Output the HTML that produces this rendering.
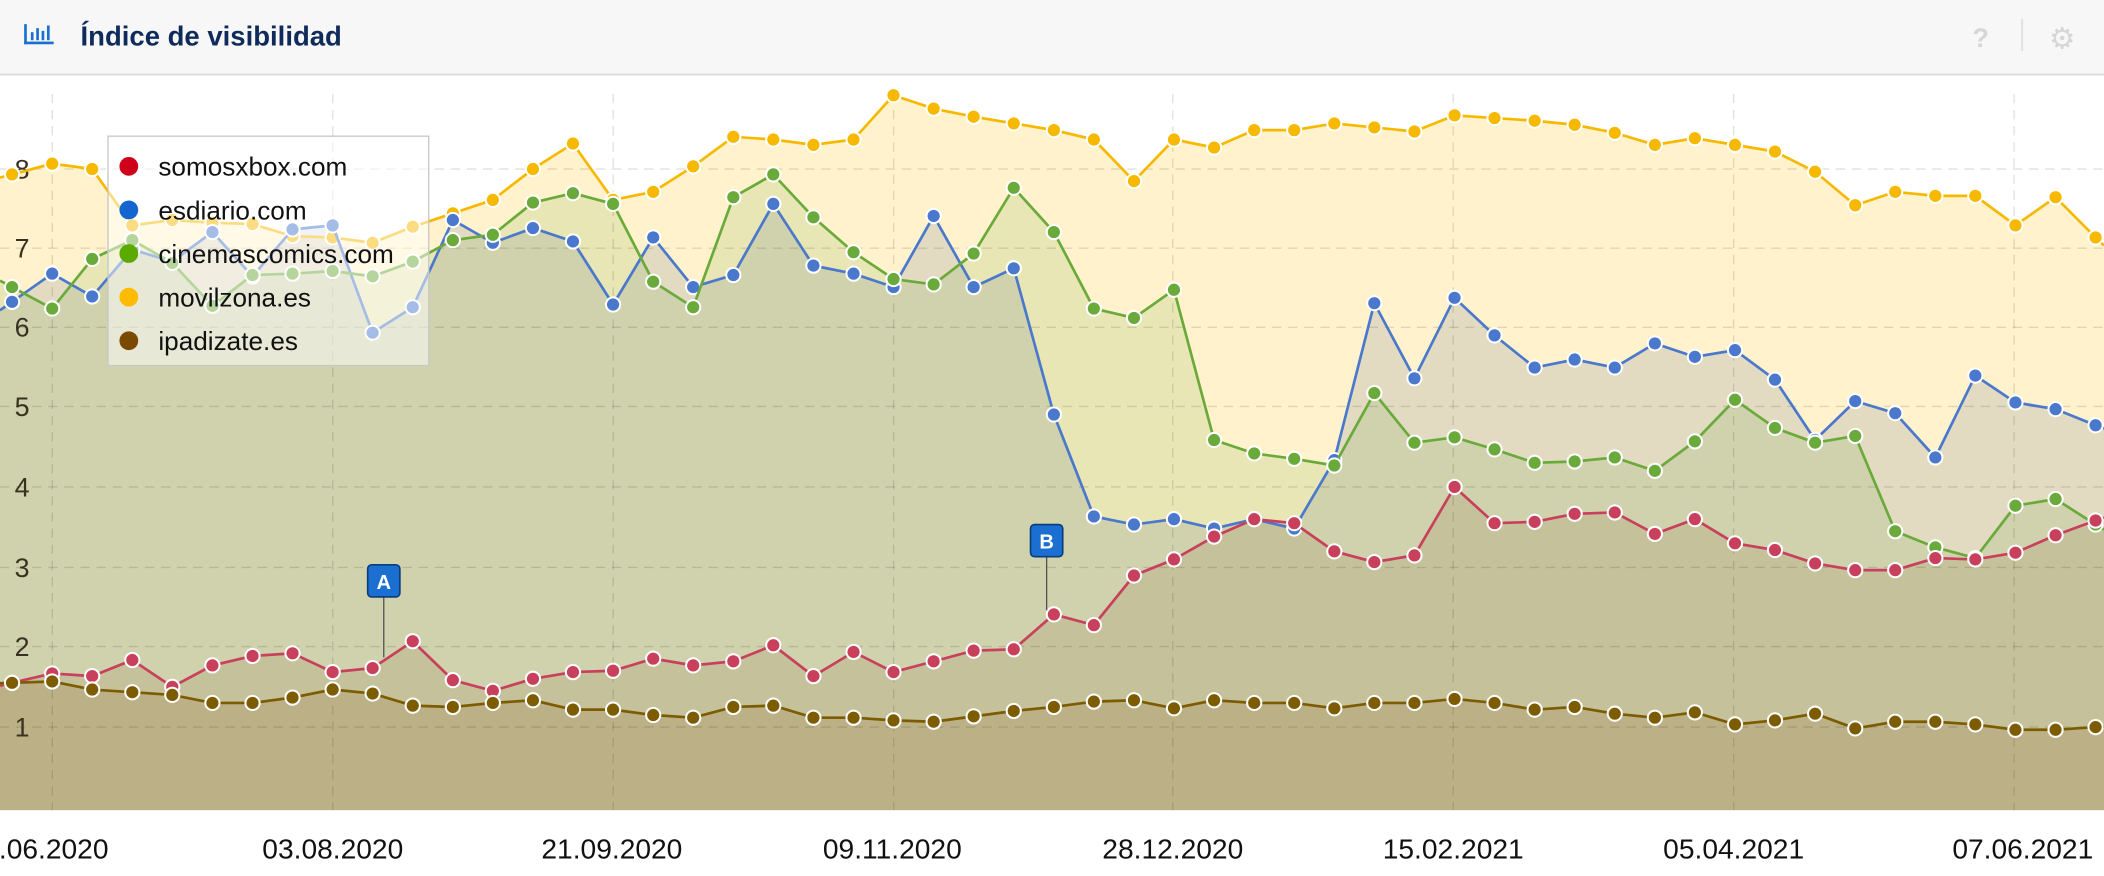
<!DOCTYPE html>
<html><head><meta charset="utf-8"><style>
html,body{margin:0;padding:0;background:#fff;}
svg{display:block;}
</style></head><body>
<svg id="s" width="2104" height="876" viewBox="0 0 1568 653" preserveAspectRatio="none" xmlns="http://www.w3.org/2000/svg" font-family="Liberation Sans, sans-serif">
<rect x="0" y="0" width="1568" height="653" fill="#fff"/>
<rect x="0" y="0" width="1568" height="55" fill="#f7f7f7"/>
<line x1="0" y1="55.5" x2="1568" y2="55.5" stroke="#dcdcdc" stroke-width="1.5"/>
<g fill="#1a6fd0"><rect x="18" y="31" width="22" height="2"/><rect x="18" y="18" width="2" height="15"/><rect x="23" y="24" width="2" height="6"/><rect x="27" y="21" width="2" height="9"/><rect x="31" y="23" width="2" height="7"/><rect x="35" y="19" width="2" height="11"/></g>
<text x="60" y="34" font-size="20.5" font-weight="bold" fill="#0f2b5b">Índice de visibilidad</text>
<text x="1470" y="35" font-size="20" font-weight="bold" fill="#d6d6d6">?</text>
<line x1="1507" y1="14" x2="1507" y2="38" stroke="#e0e0e0" stroke-width="1.5"/>
<text x="1527" y="36" font-size="22" fill="#d6d6d6">⚙</text>
<g id="plot"></g>
</svg>
<script>
const Y={
yel:[130,122,126,168,164,166,167,176,177,181,169,159,149,126,107,149,143,124,102,104,108,104,71,81,87,92,97,104,135,104,110,97,97,92,95,98,86,88,90,93,99,108,103,108,113,128,153,143,146,146,168,147,177],
blu:[225,204,221,186,195,173,206,171,168,248,229,164,181,170,180,227,177,214,205,152,198,204,214,161,214,200,309,385,391,387,394,387,394,343,226,282,222,250,274,268,274,256,266,261,283,328,299,308,341,280,300,305,317],
grn:[214,230,193,179,196,228,205,204,202,206,195,179,175,151,144,152,210,229,147,130,162,188,208,212,189,140,173,230,237,216,328,338,342,347,293,330,326,335,345,344,341,351,329,298,319,330,325,396,408,416,377,372,391],
red:[509,502,504,492,512,496,489,487,501,498,478,507,515,506,501,500,491,496,493,481,504,486,501,493,485,484,458,466,429,417,400,387,390,411,419,414,363,390,389,383,382,398,387,405,410,420,425,425,416,417,412,399,388],
brn:[509,508,514,516,518,524,524,520,514,517,526,527,524,522,529,529,533,535,527,526,535,535,537,538,534,530,527,523,522,528,522,524,524,528,524,524,521,524,529,527,532,535,531,540,537,532,543,538,538,540,544,544,542]};
const S=[['yel','#fff2cc',1,'#f7b900'],['blu','rgb(62,89,144)',0.15,'#4a78cc'],['grn','rgb(102,162,51)',0.15,'#6aaa3a'],['red','rgb(140,90,40)',0.14,'#c9405c'],['brn','rgb(140,85,20)',0.15,'#7d5c00']];
const X=i=>9+29.86*i, B=604;
let h='';
function pts(k){const a=Y[k];const l=a[0]+(a[0]-a[1])*9/29.86;const r=a[52]+(a[52]-a[51])*6/29.86;let p=[[0,l]];a.forEach((y,i)=>p.push([X(i),y]));p.push([1568,r]);return p;}
for(const [k,f,a] of S){let d='M0,'+B;pts(k).forEach(([x,y])=>d+='L'+x.toFixed(1)+','+y.toFixed(1));d+='L1568,'+B+'Z';h+=`<path d="${d}" fill="${f}" fill-opacity="${a}"/>`;}
[126,185,244,303,363,423,482,542].forEach(y=>h+=`<line x1="0" y1="${y}" x2="1568" y2="${y}" stroke="rgba(0,0,0,0.12)" stroke-dasharray="7,5"/>`);
[39,248,457,666,874,1083,1292,1501].forEach(x=>h+=`<line x1="${x}" y1="70" x2="${x}" y2="${B}" stroke="rgba(0,0,0,0.12)" stroke-dasharray="7,5"/>`);
[['8',126],['7',185],['6',244],['5',303],['4',363],['3',423],['2',482],['1',542]].forEach(([t,y])=>h+=`<text x="22" y="${y+7}" font-size="20" fill="#3a3220" text-anchor="end">${t}</text>`);
for(const [k,,,c] of S){let d='';pts(k).forEach(([x,y],i)=>d+=(i?'L':'M')+x.toFixed(1)+','+y.toFixed(1));h+=`<path d="${d}" fill="none" stroke="${c}" stroke-width="2"/>`;Y[k].forEach((y,i)=>h+=`<circle cx="${X(i).toFixed(1)}" cy="${y}" r="5.3" fill="${c}" stroke="#fff" stroke-width="1.5"/>`);}
[['A',286,433,490],['B',780,403,455]].forEach(([t,x,y,y2])=>{h+=`<line x1="${x}" y1="${y+12}" x2="${x}" y2="${y2}" stroke="#555" stroke-width="1"/><rect x="${x-12}" y="${y-12}" width="24" height="24" rx="3" fill="#1a6fd0" stroke="#0b3c7a" stroke-width="1.2"/><text x="${x}" y="${y+6}" font-size="15" font-weight="bold" fill="#fff" text-anchor="middle">${t}</text>`;});
h+=`<rect x="0" y="${B}" width="1568" height="49" fill="#fff"/>`;
[['.06.2020',40],['03.08.2020',248],['21.09.2020',456],['09.11.2020',665],['28.12.2020',874],['15.02.2021',1083],['05.04.2021',1292]].forEach(([t,x])=>h+=`<text x="${x}" y="640" font-size="21" fill="#111" text-anchor="middle">${t}</text>`);
h+=`<text x="1560" y="640" font-size="21" fill="#111" text-anchor="end">07.06.2021</text>`;
h+=`<rect x="80.5" y="101.5" width="239" height="171" fill="#fff" fill-opacity="0.5" stroke="#c8c8c8" stroke-width="1"/>`;
[['somosxbox.com','#d0021b'],['esdiario.com','#1565d0'],['cinemascomics.com','#5aaa00'],['movilzona.es','#ffbb00'],['ipadizate.es','#7a4a00']].forEach(([t,c],i)=>{const y=124+i*32.5;h+=`<circle cx="96" cy="${y}" r="7" fill="${c}"/><text x="118" y="${y+7}" font-size="19.5" fill="#111">${t}</text>`;});
document.getElementById('plot').innerHTML=h;
</script>
</body></html>
